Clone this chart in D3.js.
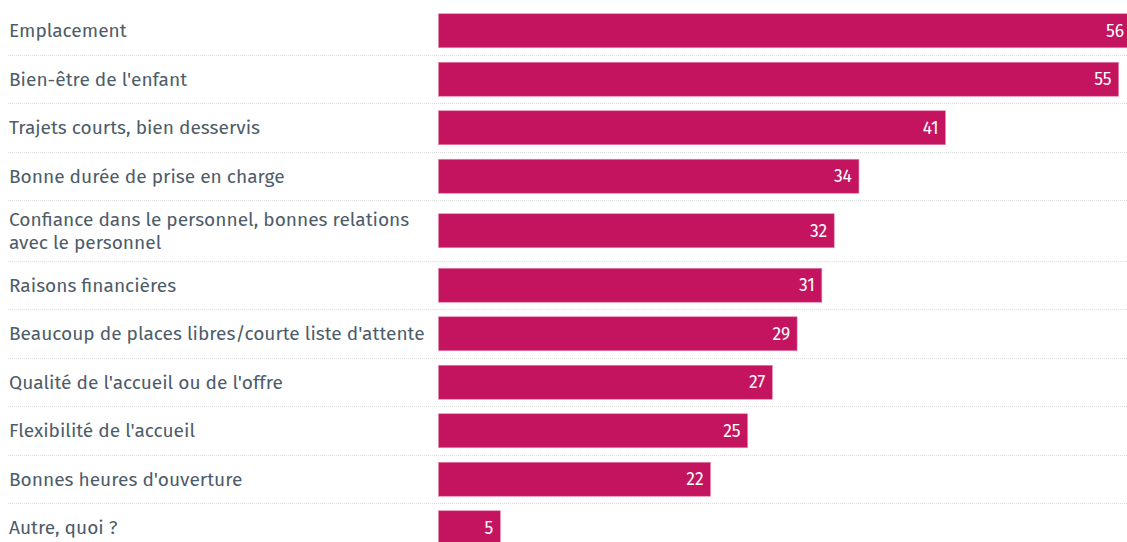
<!DOCTYPE html>
<html>
<head>
<meta charset="utf-8">
<script src="https://cdn.jsdelivr.net/npm/d3@7"></script>
<style>
  html, body { margin: 0; padding: 0; background: #fff; }
  svg { display: block; }
</style>
</head>
<body>
<svg id="chart" width="1127" height="542"></svg>
<script>
const categories = [
  "Emplacement",
  "Bien-être de l'enfant",
  "Trajets courts, bien desservis",
  "Bonne durée de prise en charge",
  "Confiance dans le personnel, bonnes relations avec le personnel",
  "Raisons financières",
  "Beaucoup de places libres/courte liste d'attente",
  "Qualité de l'accueil ou de l'offre",
  "Flexibilité de l'accueil",
  "Bonnes heures d'ouverture",
  "Autre, quoi ?"
];
const values = [56, 55, 41, 34, 32, 31, 29, 27, 25, 22, 5];

const W = 1127, H = 542;
const labelX = 9, barX0 = 438.5, barX1 = 1131;
const barH = 34, lineH = 23, rowPad = 14.5, topOffset = 6.5, labelMaxW = 425;
const labelSize = 19.1;
const fontFamily = "'Fira Sans', 'Open Sans', 'Noto Sans', sans-serif";

const svg = d3.select("#chart");

// measure + wrap labels
const measure = svg.append("text")
  .attr("font-family", fontFamily).attr("font-size", labelSize).attr("visibility", "hidden");
function wrap(str) {
  const words = str.split(" ");
  const lines = [];
  let cur = "";
  for (const w of words) {
    const test = cur ? cur + " " + w : w;
    measure.text(test);
    if (measure.node().getComputedTextLength() > labelMaxW && cur) {
      lines.push(cur); cur = w;
    } else cur = test;
  }
  if (cur) lines.push(cur);
  return lines;
}
const wrapped = categories.map(wrap);
measure.remove();

const rowHeights = wrapped.map(l => Math.max(barH, l.length * lineH) + rowPad);
const rowTops = [];
rowHeights.reduce((acc, h) => { rowTops.push(acc); return acc + h; }, topOffset);

const y = d3.scaleOrdinal().domain(categories).range(rowTops);
const rh = d3.scaleOrdinal().domain(categories).range(rowHeights);
const x = d3.scaleLinear().domain([0, 56]).range([barX0, barX1]);

const data = categories.map((c, i) => ({ c, v: values[i], lines: wrapped[i] }));

// separators
svg.append("g").selectAll("line")
  .data(data.slice(0, -1))
  .join("line")
  .attr("x1", 8).attr("x2", W)
  .attr("y1", d => y(d.c) + rh(d.c)).attr("y2", d => y(d.c) + rh(d.c))
  .attr("stroke", "#dedede").attr("stroke-width", 1)
  .attr("stroke-dasharray", "1,1")
  .attr("shape-rendering", "crispEdges");

// bars
svg.append("g").selectAll("rect")
  .data(data)
  .join("rect")
  .attr("x", x(0))
  .attr("y", d => y(d.c) + (rh(d.c) - barH) / 2)
  .attr("width", d => x(d.v) - x(0))
  .attr("height", barH)
  .attr("fill", "#c41460")
  .attr("stroke", "#e58ab0").attr("stroke-width", 0.6);

// values
svg.append("g").selectAll("text")
  .data(data)
  .join("text")
  .attr("x", d => x(d.v) - 7)
  .attr("y", d => y(d.c) + rh(d.c) / 2)
  .attr("dy", "0.35em")
  .attr("text-anchor", "end")
  .attr("font-family", fontFamily)
  .attr("font-size", 17.5)
  .attr("fill", "#fff")
  .text(d => d.v);

// labels
const lab = svg.append("g").selectAll("text")
  .data(data)
  .join("text")
  .attr("font-family", fontFamily)
  .attr("font-size", labelSize)
  .attr("fill", "#4d5c69");
lab.each(function(d) {
  const t = d3.select(this);
  const n = d.lines.length;
  const cy = y(d.c) + rh(d.c) / 2;
  d.lines.forEach((ln, i) => {
    t.append("tspan")
      .attr("x", labelX)
      .attr("y", cy + (i - (n - 1) / 2) * lineH)
      .attr("dy", "0.35em")
      .text(ln);
  });
});
</script>
</body>
</html>
